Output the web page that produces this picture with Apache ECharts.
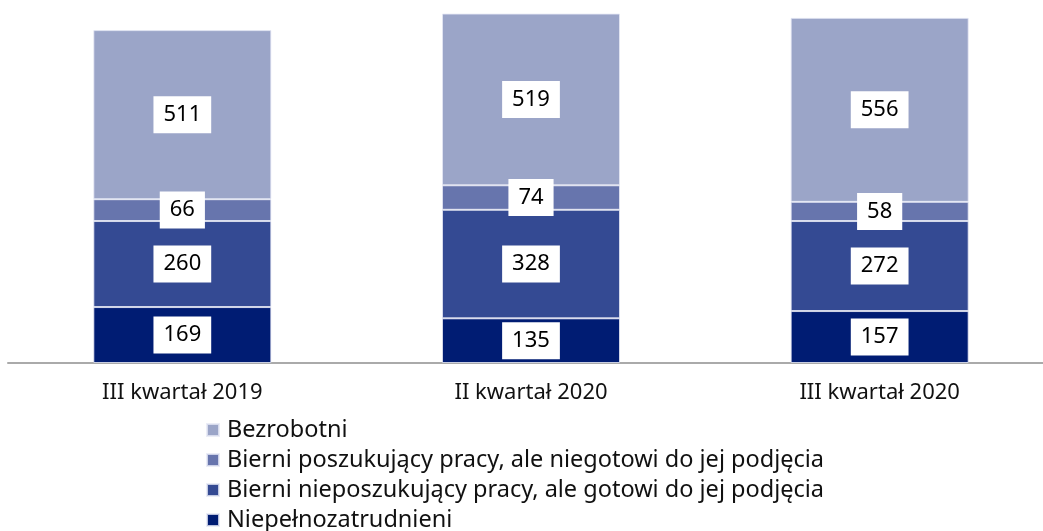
<!DOCTYPE html>
<html><head><meta charset="utf-8">
<script src="https://cdn.jsdelivr.net/npm/echarts@6/dist/echarts.min.js"></script>
<style>html,body{margin:0;padding:0;background:#fff;overflow:hidden}#c{width:1054px;height:531px}</style>
</head><body><div id="c"></div>
<script>
const categories = ['III kwartał 2019', 'II kwartał 2020', 'III kwartał 2020'];
const niepelno = [169, 135, 157];
const bierniNieposz = [260, 328, 272];
const bierniPoszuk = [66, 74, 58];
const bezrobotni = [511, 519, 556];
const names = ['Niepełnozatrudnieni', 'Bierni nieposzukujący pracy, ale gotowi do jej podjęcia', 'Bierni poszukujący pracy, ale niegotowi do jej podjęcia', 'Bezrobotni'];
const colors = ['#001C73', '#344A93', '#6775AD', '#9BA5C8'];
const dataSets = [niepelno, bierniNieposz, bierniPoszuk, bezrobotni];
const FONT = 'Noto Sans';
const chart = echarts.init(document.getElementById('c'));
chart.setOption({
  animation: false,
  textStyle: {fontFamily: FONT},
  grid: {left: 8, right: 0, top: 0, bottom: 168, containLabel: false},
  xAxis: {
    type: 'category', data: categories,
    axisLine: {lineStyle: {color: '#AAAAAA', width: 2}},
    axisTick: {show: false},
    axisLabel: {color: '#111', fontSize: 22, fontFamily: FONT, margin: 19}
  },
  yAxis: {type: 'value', min: 0, max: 1097, show: false, splitLine: {show: false}},
  legend: {
    orient: 'vertical', left: 206, top: 418, height: 200, padding: 0,
    data: names.slice().reverse(),
    itemWidth: 12, itemHeight: 12, itemGap: 6,
    icon: 'rect',
    textStyle: {fontSize: 23.5, lineHeight: 24, color: '#111', fontFamily: FONT, padding: [0,0,0,3]}
  },
  series: dataSets.map((d, i) => ({
    name: names[i], type: 'bar', stack: 'all', data: d,
    barWidth: 178,
    itemStyle: {color: colors[i], borderColor: 'rgba(230,232,245,0.8)', borderWidth: 1},
    label: {
      show: true, position: 'inside', color: '#000', fontSize: 22, lineHeight: 22, fontFamily: FONT,
      backgroundColor: '#fff', padding: [8, 10, 7, 10]
    }
  }))
});
</script></body></html>
